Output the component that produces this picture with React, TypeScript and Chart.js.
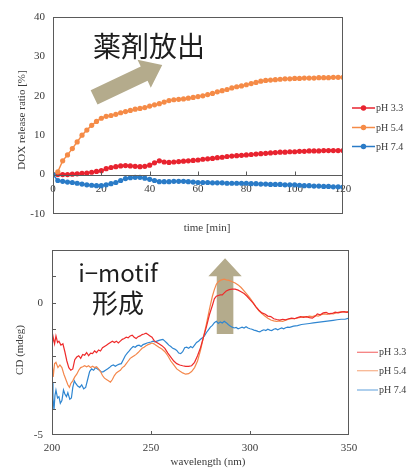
import React, { useEffect, useRef } from 'react';
import { Chart, registerables } from 'chart.js';

Chart.register(...registerables);

const SERIF = '"Liberation Serif", "Times New Roman", serif';
const CJK = '"Noto Sans CJK JP", "Noto Sans", sans-serif';

// ---------- top chart: DOX release ----------
const seriesLabels = ['pH 3.3', 'pH 5.4', 'pH 7.4'];
const releaseColors = ['#e8232f', '#f58b47', '#2a7bc7'];

const timeMin = [
  0, 2, 4, 6, 8, 10, 12, 14, 16, 18, 20, 22, 24, 26, 28, 30, 32, 34, 36, 38,
  40, 42, 44, 46, 48, 50, 52, 54, 56, 58, 60, 62, 64, 66, 68, 70, 72, 74, 76, 78,
  80, 82, 84, 86, 88, 90, 92, 94, 96, 98, 100, 102, 104, 106, 108, 110, 112, 114, 116, 118, 120,
];

const releasePH33 = [
  0, 0, 0, 0, 0.1, 0.2, 0.3, 0.4, 0.6, 0.8,
  1.0, 1.5, 1.8, 2.0, 2.2, 2.3, 2.2, 2.1, 2.0, 2.1,
  2.4, 3.0, 3.5, 3.2, 3.1, 3.2, 3.3, 3.4, 3.5, 3.6,
  3.7, 3.9, 4.0, 4.1, 4.3, 4.4, 4.6, 4.7, 4.8, 4.9,
  5.0, 5.1, 5.2, 5.3, 5.4, 5.5, 5.6, 5.7, 5.7, 5.8,
  5.8, 5.9, 5.9, 6.0, 6.0, 6.0, 6.1, 6.1, 6.1, 6.1,
  6.1,
];

const releasePH54 = [
  0, 0.7, 3.5, 5.0, 6.6, 8.3, 10.0, 11.3, 12.5, 13.5,
  14.3, 14.8, 15.0, 15.3, 15.7, 16.0, 16.3, 16.6, 16.8, 17.0,
  17.4, 17.7, 18.0, 18.4, 18.8, 19.0, 19.1, 19.2, 19.4, 19.6,
  19.8, 20.0, 20.3, 20.6, 21.0, 21.3, 21.6, 22.0, 22.3, 22.5,
  22.8, 23.1, 23.4, 23.7, 23.9, 24.0, 24.1, 24.2, 24.3, 24.3,
  24.4, 24.4, 24.5, 24.5, 24.5, 24.6, 24.6, 24.6, 24.7, 24.7,
  24.7,
];

const releasePH74 = [
  0, -1.5, -1.7, -1.9, -2.0, -2.2, -2.4, -2.6, -2.7, -2.8,
  -2.8, -2.6, -2.3, -2.0, -1.5, -1.0, -0.8, -0.7, -0.7, -0.9,
  -1.2, -1.5, -1.8, -1.8, -1.8, -1.7, -1.7, -1.7, -1.8, -1.9,
  -2.0, -2.0, -2.0, -2.1, -2.1, -2.1, -2.2, -2.2, -2.2, -2.2,
  -2.2, -2.3, -2.3, -2.4, -2.4, -2.5, -2.5, -2.5, -2.6, -2.6,
  -2.6, -2.7, -2.8, -2.8, -2.9, -2.9, -3.0, -3.0, -3.1, -3.1,
  -3.2,
];

const releaseTicksX = [0, 20, 40, 60, 80, 100, 120];

// ---------- bottom chart: CD spectra ----------
const cdColors = ['#ee2b2b', '#f4874b', '#2f86d1'];

const cdPH33: [number, number][] = [
  [200, -1.65], [200.6, -1.3], [201.3, -1.55], [202, -1.25], [202.8, -1.5], [203.5, -1.45],
  [204.5, -1.6], [205.5, -1.55], [206.5, -1.85], [207.5, -2.2], [208.5, -2.45], [209.5, -2.55],
  [210.5, -2.5], [211.5, -2.15], [212.5, -2.05], [213.5, -2.0], [214.5, -2.1], [215.5, -1.95],
  [216.5, -1.98], [217.5, -1.88], [218.5, -2.0], [219.5, -1.9], [220.5, -1.92], [221.5, -1.82],
  [222.5, -1.88], [223.5, -1.78], [224.5, -1.82], [225.5, -1.7], [226.5, -1.65], [227.5, -1.6],
  [228.5, -1.55], [229.5, -1.5], [230.5, -1.45], [231.5, -1.5], [232.5, -1.45], [233.5, -1.52],
  [234.5, -1.45], [235.5, -1.38], [236.5, -1.35], [237.5, -1.3], [238.5, -1.32], [239.5, -1.25],
  [240.5, -1.22], [241.5, -1.3], [242.5, -1.35], [243.5, -1.28], [244.5, -1.25], [245.5, -1.2],
  [246.5, -1.18], [247.5, -1.15], [248.5, -1.2], [249.5, -1.25], [250.5, -1.3], [251.5, -1.42],
  [252.5, -1.48], [254, -1.55], [255.5, -1.62], [257, -1.72], [258.5, -1.9], [260, -2.05],
  [261.5, -2.2], [263, -2.3], [264.5, -2.35], [266, -2.38], [267.5, -2.4], [269, -2.4],
  [270.5, -2.38], [272, -2.25], [273.5, -2.0], [275, -1.7], [276.5, -1.3], [278, -0.9],
  [279.5, -0.45], [281, -0.1], [282, 0.15], [283, 0.25], [284, 0.28], [285, 0.3], [286, 0.3],
  [287, 0.38], [288, 0.45], [289.5, 0.5], [291, 0.52], [292.5, 0.52], [294, 0.48], [295.5, 0.42],
  [297, 0.35], [298.5, 0.25], [300, 0.12], [301.5, 0.0], [303, -0.15], [304.5, -0.28],
  [306, -0.38], [307.5, -0.42], [309, -0.5], [310.5, -0.52], [312, -0.6], [313.5, -0.63],
  [315, -0.65], [316.5, -0.62], [318, -0.64], [319.5, -0.6], [321, -0.58], [322.5, -0.6],
  [324, -0.56], [325.5, -0.52], [327, -0.55], [328.5, -0.52], [330, -0.56], [331.5, -0.58],
  [333, -0.5], [334, -0.42], [335.5, -0.45], [337, -0.38], [338.5, -0.36], [340, -0.42],
  [341.5, -0.4], [343, -0.35], [344.5, -0.38], [346, -0.35], [347.5, -0.33], [349, -0.36], [350, -0.34],
];

const cdPH54: [number, number][] = [
  [200, -2.2], [200.6, -2.8], [201.3, -2.3], [202, -2.25], [203, -2.45], [204, -2.35],
  [205, -2.45], [206, -2.7], [207, -2.9], [208, -3.1], [208.8, -3.2], [209.5, -3.05],
  [210.5, -2.95], [211.5, -2.8], [212.5, -2.7], [213.5, -2.55], [214.5, -2.45], [215.5, -2.42],
  [216.5, -2.38], [217.5, -2.42], [218.5, -2.38], [219.5, -2.45], [220.5, -2.4], [221.5, -2.45],
  [222.5, -2.42], [223.5, -2.5], [224.5, -2.6], [225.5, -2.75], [226.5, -2.85], [227.5, -2.9],
  [228.5, -2.95], [229.5, -3.0], [230.5, -2.9], [231.5, -2.75], [232.5, -2.65], [233.5, -2.6],
  [234.5, -2.55], [235.5, -2.45], [236.5, -2.4], [237.5, -2.3], [238.5, -2.2], [239.5, -2.1],
  [240.5, -2.05], [241.5, -2.0], [242.5, -1.95], [243.5, -1.88], [244.5, -1.8], [245.5, -1.72],
  [246.5, -1.68], [247.5, -1.62], [248.5, -1.58], [249.5, -1.55], [250.5, -1.52], [251.5, -1.55],
  [252.5, -1.6], [254, -1.68], [255.5, -1.75], [257, -1.85], [258.5, -2.0], [260, -2.2],
  [261.5, -2.35], [263, -2.5], [264.5, -2.58], [266, -2.65], [267.5, -2.7], [269, -2.68],
  [270.5, -2.6], [272, -2.45], [273.5, -2.2], [275, -1.8], [276.5, -1.3], [278, -0.8],
  [279.5, -0.25], [281, 0.25], [282, 0.5], [283, 0.7], [284, 0.8], [285, 0.85], [286, 0.88],
  [287, 0.9], [288, 0.87], [289.5, 0.85], [291, 0.8], [292.5, 0.75], [294, 0.68], [295.5, 0.58],
  [297, 0.45], [298.5, 0.32], [300, 0.18], [301.5, 0.02], [303, -0.15], [304.5, -0.3],
  [306, -0.4], [307.5, -0.5], [309, -0.58], [310.5, -0.65], [312, -0.68], [313.5, -0.7],
  [315, -0.68], [316.5, -0.7], [318, -0.66], [319.5, -0.62], [321, -0.6], [322.5, -0.6],
  [324, -0.57], [325.5, -0.55], [327, -0.52], [328.5, -0.54], [330, -0.5], [331.5, -0.52],
  [333, -0.48], [334.5, -0.5], [336, -0.45], [337.5, -0.42], [339, -0.44], [340.5, -0.4],
  [342, -0.42], [343.5, -0.38], [345, -0.35], [346.5, -0.33], [348, -0.35], [350, -0.32],
];

const cdPH74: [number, number][] = [
  [200, -3.0], [200.5, -3.6], [201, -4.05], [201.5, -3.5], [202, -3.3], [202.8, -3.6],
  [203.5, -3.55], [204.2, -3.8], [205, -3.7], [205.8, -3.3], [206.5, -3.45], [207.3, -3.55],
  [208, -3.4], [209, -3.65], [209.8, -3.6], [210.5, -3.2], [211.3, -2.95], [212, -3.05],
  [213, -3.15], [214, -3.2], [215, -3.1], [216, -3.25], [217, -3.2], [218, -2.9], [219, -2.6],
  [220, -2.5], [221, -2.55], [222, -2.45], [223, -2.5], [224, -2.55], [225, -2.62], [226, -2.6],
  [227, -2.55], [228, -2.5], [229, -2.45], [230, -2.38], [231, -2.35], [232, -2.4], [233, -2.35],
  [234, -2.32], [235, -2.3], [236, -2.15], [237, -2.0], [238, -1.9], [239, -1.82], [240, -1.72],
  [241, -1.65], [242, -1.68], [243, -1.62], [244, -1.6], [245, -1.65], [246, -1.58], [247, -1.55],
  [248, -1.52], [249, -1.5], [250, -1.48], [251, -1.45], [252, -1.48], [253, -1.45], [254, -1.42],
  [255, -1.4], [256, -1.38], [257, -1.45], [258, -1.52], [259, -1.6], [260, -1.65], [261, -1.72],
  [262, -1.75], [263, -1.8], [264, -1.9], [265, -1.92], [266, -1.85], [267, -1.7], [268, -1.68],
  [269, -1.72], [270, -1.65], [271, -1.7], [272, -1.6], [273, -1.5], [274, -1.45], [275, -1.38],
  [276, -1.32], [277, -1.25], [278, -1.12], [279, -1.02], [280, -0.92], [281, -0.85], [282, -0.75],
  [283, -0.7], [284, -0.78], [285, -0.72], [286, -0.76], [287, -0.7], [288, -0.75], [289, -0.82],
  [290, -0.88], [291, -0.92], [292, -0.95], [293, -0.93], [294, -0.98], [295, -0.95], [296, -0.92],
  [297, -0.95], [298, -0.9], [299, -0.95], [300, -0.98], [301, -1.0], [302, -1.03], [303, -1.05],
  [304, -1.08], [305, -1.1], [306, -1.05], [307, -1.02], [308, -1.05], [309, -1.0], [310, -1.03],
  [311, -1.05], [312, -1.0], [313, -0.98], [314, -1.02], [315, -0.98], [316, -0.95], [317, -0.98],
  [318, -0.94], [319, -0.92], [320, -0.93], [322, -0.88], [324, -0.86], [326, -0.82], [328, -0.8],
  [330, -0.78], [332, -0.76], [334, -0.74], [336, -0.72], [338, -0.7], [340, -0.68], [342, -0.66],
  [344, -0.64], [346, -0.62], [348, -0.62], [350, -0.58],
];

const cdTicksX = [200, 250, 300, 350];
const cdLabelledY = [0, -5];

const ARROW_COLOR = '#b4ab8c';
const FRAME_COLOR = '#5a5a5a';
const TICK_TEXT = '#3a3a3a';

function drawArrow(ctx: CanvasRenderingContext2D, x0: number, y0: number, x1: number, y1: number,
  shaftHalf: number, headHalf: number, headLen: number) {
  const dx = x1 - x0, dy = y1 - y0;
  const L = Math.hypot(dx, dy);
  const ux = dx / L, uy = dy / L;
  const nx = -uy, ny = ux;
  const bx = x1 - ux * headLen, by = y1 - uy * headLen;
  ctx.save();
  ctx.fillStyle = ARROW_COLOR;
  ctx.beginPath();
  ctx.moveTo(x0 + nx * shaftHalf, y0 + ny * shaftHalf);
  ctx.lineTo(bx + nx * shaftHalf, by + ny * shaftHalf);
  ctx.lineTo(bx + nx * headHalf, by + ny * headHalf);
  ctx.lineTo(x1, y1);
  ctx.lineTo(bx - nx * headHalf, by - ny * headHalf);
  ctx.lineTo(bx - nx * shaftHalf, by - ny * shaftHalf);
  ctx.lineTo(x0 - nx * shaftHalf, y0 - ny * shaftHalf);
  ctx.closePath();
  ctx.fill();
  ctx.restore();
}

function drawFrame(ctx: CanvasRenderingContext2D, a: any) {
  ctx.save();
  ctx.strokeStyle = FRAME_COLOR;
  ctx.lineWidth = 1;
  ctx.strokeRect(Math.round(a.left) + 0.5, Math.round(a.top) + 0.5,
    Math.round(a.right - a.left) - 1, Math.round(a.bottom - a.top) - 1);
  ctx.restore();
}

function drawAxisTitle(ctx: CanvasRenderingContext2D, text: string, x: number, y: number, vertical = false) {
  ctx.save();
  ctx.fillStyle = TICK_TEXT;
  ctx.font = `11px ${SERIF}`;
  ctx.textAlign = 'center';
  ctx.textBaseline = 'middle';
  ctx.translate(x, y);
  if (vertical) ctx.rotate(-Math.PI / 2);
  ctx.fillText(text, 0, 0);
  ctx.restore();
}

const topDeco = {
  id: 'topDeco',
  beforeDatasetsDraw(chart: any) {
    const { ctx, scales: { x, y } } = chart;
    drawArrow(ctx, x.getPixelForValue(17), y.getPixelForValue(19.6),
      x.getPixelForValue(45.2), y.getPixelForValue(27.8), 8, 15.5, 20);
  },
  afterDraw(chart: any) {
    const { ctx, chartArea: a, scales: { x, y } } = chart;
    drawFrame(ctx, a);
    const y0 = Math.round(y.getPixelForValue(0)) + 0.5;
    ctx.save();
    ctx.strokeStyle = FRAME_COLOR;
    ctx.lineWidth = 1;
    ctx.beginPath();
    ctx.moveTo(a.left, y0);
    ctx.lineTo(a.right, y0);
    releaseTicksX.slice(1, -1).forEach((t) => {
      const px = Math.round(x.getPixelForValue(t)) + 0.5;
      ctx.moveTo(px, y0);
      ctx.lineTo(px, y0 - 4);
    });
    ctx.stroke();
    // legend
    const rows = [a.top + 91, a.top + 110.5, a.top + 129.5];
    chart.data.datasets.forEach((ds: any, i: number) => {
      const ly = rows[i];
      ctx.strokeStyle = ds.borderColor;
      ctx.lineWidth = 1.5;
      ctx.beginPath();
      ctx.moveTo(a.right + 9, ly);
      ctx.lineTo(a.right + 32, ly);
      ctx.stroke();
      ctx.fillStyle = ds.backgroundColor;
      ctx.beginPath();
      ctx.arc(a.right + 20.5, ly, 2.7, 0, Math.PI * 2);
      ctx.fill();
      ctx.fillStyle = TICK_TEXT;
      ctx.font = `10px ${SERIF}`;
      ctx.textBaseline = 'middle';
      ctx.textAlign = 'left';
      ctx.fillText(ds.label, a.right + 33, ly + 0.5);
    });
    // annotation text
    ctx.fillStyle = '#1e1e1e';
    ctx.font = `28px ${CJK}`;
    ctx.textAlign = 'center';
    ctx.textBaseline = 'middle';
    ctx.fillText('薬剤放出', 149, 46);
    ctx.restore();
    drawAxisTitle(ctx, 'time [min]', 207, a.bottom + 14);
    drawAxisTitle(ctx, 'DOX release ratio [%]', 22, 120, true);
  },
};

const bottomDeco = {
  id: 'bottomDeco',
  beforeDatasetsDraw(chart: any) {
    const { ctx, scales: { x, y } } = chart;
    drawArrow(ctx, x.getPixelForValue(287.4), y.getPixelForValue(-1.18),
      x.getPixelForValue(287.4), y.getPixelForValue(1.69), 8.3, 16.7, 18);
  },
  afterDraw(chart: any) {
    const { ctx, chartArea: a, scales: { x, y } } = chart;
    drawFrame(ctx, a);
    ctx.save();
    ctx.strokeStyle = FRAME_COLOR;
    ctx.lineWidth = 1;
    ctx.beginPath();
    for (let v = -4; v <= 1; v++) {
      const py = Math.round(y.getPixelForValue(v)) + 0.5;
      ctx.moveTo(a.left, py);
      ctx.lineTo(a.left + 4, py);
    }
    cdTicksX.slice(1, -1).forEach((w) => {
      const px = Math.round(x.getPixelForValue(w)) + 0.5;
      ctx.moveTo(px, a.bottom);
      ctx.lineTo(px, a.bottom - 4);
    });
    ctx.stroke();
    // legend
    const rows = [a.top + 102.3, a.top + 120.7, a.top + 140];
    chart.data.datasets.forEach((ds: any, i: number) => {
      const ly = rows[i];
      ctx.globalAlpha = 0.6;
      ctx.strokeStyle = ds.borderColor;
      ctx.lineWidth = 1.3;
      ctx.beginPath();
      ctx.moveTo(a.right + 8, ly);
      ctx.lineTo(a.right + 29, ly);
      ctx.stroke();
      ctx.globalAlpha = 1;
      ctx.fillStyle = TICK_TEXT;
      ctx.font = `10px ${SERIF}`;
      ctx.textBaseline = 'middle';
      ctx.textAlign = 'left';
      ctx.fillText(ds.label, a.right + 30, ly + 0.5);
    });
    ctx.fillStyle = '#1e1e1e';
    ctx.textAlign = 'center';
    ctx.textBaseline = 'middle';
    ctx.font = `24px ${CJK}`;
    ctx.fillText('i\u2212motif', 118, 39);
    ctx.font = `26px ${CJK}`;
    ctx.fillText('形成', 118, 69);
    ctx.restore();
    drawAxisTitle(ctx, 'wavelength (nm)', 208, a.bottom + 27);
    drawAxisTitle(ctx, 'CD (mdeg)', 20, 116, true);
  },
};

const noGrid = { display: false, drawTicks: false, tickLength: 0 };

export default function App() {
  const topRef = useRef<HTMLCanvasElement | null>(null);
  const bottomRef = useRef<HTMLCanvasElement | null>(null);

  useEffect(() => {
    const releaseSets = [releasePH33, releasePH54, releasePH74];
    const topChart = new Chart(topRef.current as HTMLCanvasElement, {
      type: 'line',
      data: {
        datasets: releaseSets.map((vals, i) => ({
          label: seriesLabels[i],
          data: timeMin.map((t, k) => ({ x: t, y: vals[k] })),
          borderColor: releaseColors[i],
          backgroundColor: releaseColors[i],
          borderWidth: 1.5,
          pointRadius: 2.6,
          pointBorderWidth: 0,
          pointHoverRadius: 2.6,
          tension: 0,
          order: 2 - i,
        })),
      },
      options: {
        responsive: false,
        animation: false,
        events: [],
        layout: { padding: { top: 17, right: 68, bottom: 20, left: 0 } },
        plugins: { legend: { display: false }, tooltip: { enabled: false } },
        scales: {
          x: {
            type: 'linear',
            position: { y: 0 } as any,
            min: 0,
            max: 120,
            afterBuildTicks: (s: any) => { s.ticks = releaseTicksX.map((v) => ({ value: v })); },
            ticks: { font: { family: SERIF, size: 11 }, color: TICK_TEXT, padding: 8, maxRotation: 0 },
            grid: noGrid,
            border: { display: false },
          },
          y: {
            type: 'linear',
            min: -10,
            max: 40,
            afterFit: (s: any) => { s.width = 53; },
            ticks: { stepSize: 10, font: { family: SERIF, size: 11 }, color: TICK_TEXT, padding: 8 },
            grid: noGrid,
            border: { display: false },
          },
        },
      },
      plugins: [topDeco],
    });

    const cdSets = [cdPH33, cdPH54, cdPH74];
    const bottomChart = new Chart(bottomRef.current as HTMLCanvasElement, {
      type: 'line',
      data: {
        datasets: cdSets.map((pts, i) => ({
          label: seriesLabels[i],
          data: pts.map(([w, v]) => ({ x: w, y: v })),
          borderColor: cdColors[i],
          backgroundColor: cdColors[i],
          borderWidth: 1.2,
          pointRadius: 0,
          tension: 0,
          order: i,
        })),
      },
      options: {
        responsive: false,
        animation: false,
        events: [],
        layout: { padding: { top: 16, right: 62, bottom: 0, left: 0 } },
        plugins: { legend: { display: false }, tooltip: { enabled: false } },
        scales: {
          x: {
            type: 'linear',
            min: 200,
            max: 350,
            afterFit: (s: any) => { s.height = 33; },
            afterBuildTicks: (s: any) => { s.ticks = cdTicksX.map((v) => ({ value: v })); },
            ticks: { font: { family: SERIF, size: 11 }, color: TICK_TEXT, padding: 7, maxRotation: 0 },
            grid: noGrid,
            border: { display: false },
          },
          y: {
            type: 'linear',
            min: -5,
            max: 2,
            afterFit: (s: any) => { s.width = 52; },
            afterBuildTicks: (s: any) => { s.ticks = cdLabelledY.map((v) => ({ value: v })); },
            ticks: { font: { family: SERIF, size: 11 }, color: TICK_TEXT, padding: 9 },
            grid: noGrid,
            border: { display: false },
          },
        },
      },
      plugins: [bottomDeco],
    });

    return () => {
      topChart.destroy();
      bottomChart.destroy();
    };
  }, []);

  return (
    <div style={{ position: 'absolute', left: 0, top: 0, width: 411, height: 468, background: '#fff' }}>
      <canvas ref={topRef} width={411} height={234}
        style={{ position: 'absolute', left: 0, top: 0, width: 411, height: 234 }} />
      <canvas ref={bottomRef} width={411} height={234}
        style={{ position: 'absolute', left: 0, top: 234, width: 411, height: 234 }} />
    </div>
  );
}
